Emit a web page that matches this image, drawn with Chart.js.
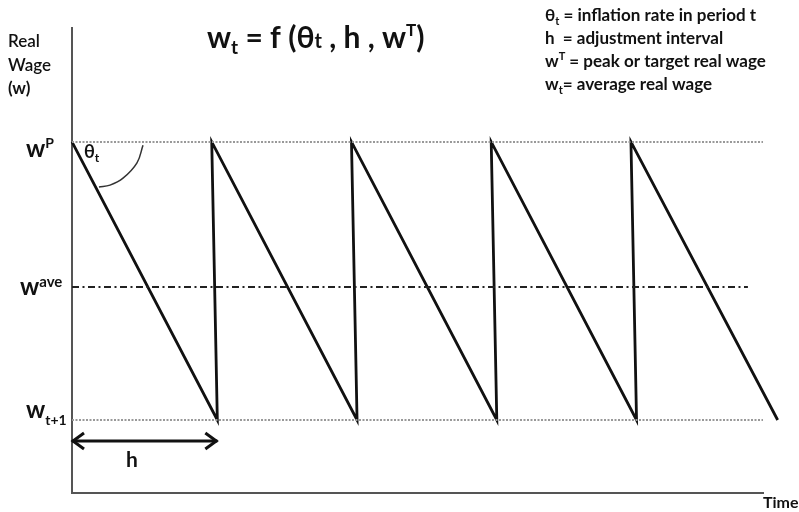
<!DOCTYPE html>
<html lang="en">
<head>
<meta charset="UTF-8">
<title>Real wage sawtooth</title>
<script src="https://cdn.jsdelivr.net/npm/chart.js"></script>
<style>
    body { margin: 0; background: #fff; }
    canvas { display: block; }
</style>
</head>
<body>
<canvas id="wageChart" width="799" height="512"></canvas>
<script>
// time in units of the adjustment interval h, wage on a 0-100 scale
const sawTime = [0, 1.04, 1, 2.04, 2, 3.04, 3, 4.04, 4, 5.05];
const sawWage = [75.5, 15.7, 75.5, 15.7, 75.5, 15.7, 75.5, 15.7, 75.5, 15.7];

const levelNames = ['peak', 'average', 'next'];
const levelValues = [75.5, 44.3, 15.7];
const levelEnds = [4.945, 4.837, 4.945];

const arcTime = [0.508, 0.465, 0.365, 0.272, 0.193];
const arcWage = [74.8, 71.0, 67.7, 66.2, 65.8];

const hSpan = [0, 1.04];
const hLevel = 11.2;

const xMax = 4.945;
const yMax = 100;

const FONT = 'Lato, "Open Sans", sans-serif';

function pts(xs, ys) {
    return xs.map((x, i) => ({ x: x, y: ys[i] }));
}

// draw text made of runs (for sub/superscripts)
function rich(ctx, x, y, parts) {
    parts.forEach(p => {
        ctx.font = (p.w || 'bold') + ' ' + p.s + 'px ' + FONT;
        ctx.fillText(p.t, x, y + (p.dy || 0));
        x += ctx.measureText(p.t).width;
    });
}

const textPlugin = {
    id: 'texts',
    afterDraw(chart) {
        const ctx = chart.ctx;
        const xs = chart.scales.x, ys = chart.scales.y;
        ctx.save();
        ctx.fillStyle = '#111';
        ctx.textBaseline = 'alphabetic';
        ctx.textAlign = 'left';

        // title
        rich(ctx, 207, 48, [
            { t: 'w', s: 30 }, { t: 't', s: 19, dy: 6 },
            { t: ' = f (', s: 30 }, { t: 'θ', s: 30 }, { t: 't', s: 20 },
            { t: ' , h , w', s: 30 }, { t: 'T', s: 17, dy: -12 }, { t: ')', s: 30 }
        ]);

        // definitions
        const defs = [
            [{ t: 'θ', s: 17 }, { t: 't', s: 11, dy: 4 }, { t: ' = inflation rate in period t', s: 17 }],
            [{ t: 'h  = adjustment interval', s: 17 }],
            [{ t: 'w', s: 17 }, { t: 'T', s: 11, dy: -7 }, { t: ' = peak or target real wage', s: 17 }],
            [{ t: 'w', s: 17 }, { t: 't', s: 11, dy: 4 }, { t: '= average real wage', s: 17 }]
        ];
        defs.forEach((d, i) => rich(ctx, 545, 21 + i * 23, d));

        // y axis title
        rich(ctx, 8, 47, [{ t: 'Real', s: 17, w: '600' }]);
        rich(ctx, 8, 71, [{ t: 'Wage', s: 17, w: '600' }]);
        rich(ctx, 8, 94, [{ t: '(w)', s: 17 }]);

        // level labels
        const yP = ys.getPixelForValue(levelValues[0]);
        const yA = ys.getPixelForValue(levelValues[1]);
        const yN = ys.getPixelForValue(levelValues[2]);
        rich(ctx, 26, yP + 15, [{ t: 'w', s: 24 }, { t: 'P', s: 14, dy: -9 }]);
        rich(ctx, 20, yA + 8, [{ t: 'w', s: 24 }, { t: 'ave', s: 15, dy: -8 }]);
        rich(ctx, 26, yN - 2, [{ t: 'w', s: 24 }, { t: 't+1', s: 14, dy: 7 }]);

        // theta label
        rich(ctx, 84, 158, [{ t: 'θ', s: 18 }, { t: 't', s: 12, dy: 4 }]);

        // h arrow heads + label
        const ay = ys.getPixelForValue(hLevel);
        const ax0 = xs.getPixelForValue(hSpan[0]);
        const ax1 = xs.getPixelForValue(hSpan[1]);
        ctx.strokeStyle = '#111';
        ctx.lineWidth = 3;
        ctx.lineJoin = 'miter';
        ctx.beginPath();
        ctx.moveTo(ax0 + 12, ay - 8); ctx.lineTo(ax0 + 1, ay); ctx.lineTo(ax0 + 12, ay + 8);
        ctx.moveTo(ax1 - 12, ay - 8); ctx.lineTo(ax1 - 1, ay); ctx.lineTo(ax1 - 12, ay + 8);
        ctx.stroke();
        rich(ctx, 126, 467, [{ t: 'h', s: 21 }]);

        // x axis title
        rich(ctx, 763, 508, [{ t: 'Time', s: 16 }]);
        ctx.restore();
    }
};

const levelStyles = [
    { borderColor: '#999', borderWidth: 2, borderDash: [2, 1.5] },
    { borderColor: '#222', borderWidth: 2, borderDash: [7, 3.5, 2, 3.5] },
    { borderColor: '#999', borderWidth: 2, borderDash: [2, 1.5] }
];

const datasets = levelValues.map((v, i) => Object.assign({
    label: levelNames[i],
    data: pts([0, levelEnds[i]], [v, v]),
    pointRadius: 0,
    fill: false
}, levelStyles[i]));

datasets.push({
    label: 'real wage',
    data: pts(sawTime, sawWage),
    borderColor: '#111',
    borderWidth: 2.8,
    pointRadius: 0,
    clip: false,
    fill: false
});
datasets.push({
    label: 'theta arc',
    data: pts(arcTime, arcWage),
    borderColor: '#333',
    borderWidth: 1.5,
    tension: 0.4,
    pointRadius: 0,
    fill: false
});
datasets.push({
    label: 'h',
    data: pts(hSpan, [hLevel, hLevel]),
    borderColor: '#111',
    borderWidth: 3,
    pointRadius: 0,
    fill: false
});

new Chart(document.getElementById('wageChart'), {
    type: 'line',
    data: { datasets: datasets },
    options: {
        responsive: false,
        animation: false,
        layout: { padding: { left: 72, top: 28, right: 36, bottom: 19 } },
        plugins: { legend: { display: false }, tooltip: { enabled: false } },
        scales: {
            x: {
                type: 'linear', min: 0, max: xMax,
                grid: { display: false }, ticks: { display: false },
                border: { display: true, color: '#555', width: 2 },
                afterFit: s => { s.height = 0; }
            },
            y: {
                type: 'linear', min: 0, max: yMax,
                grid: { display: false }, ticks: { display: false },
                border: { display: true, color: '#555', width: 2 },
                afterFit: s => { s.width = 0; }
            }
        }
    },
    plugins: [textPlugin]
});
</script>
</body>
</html>
